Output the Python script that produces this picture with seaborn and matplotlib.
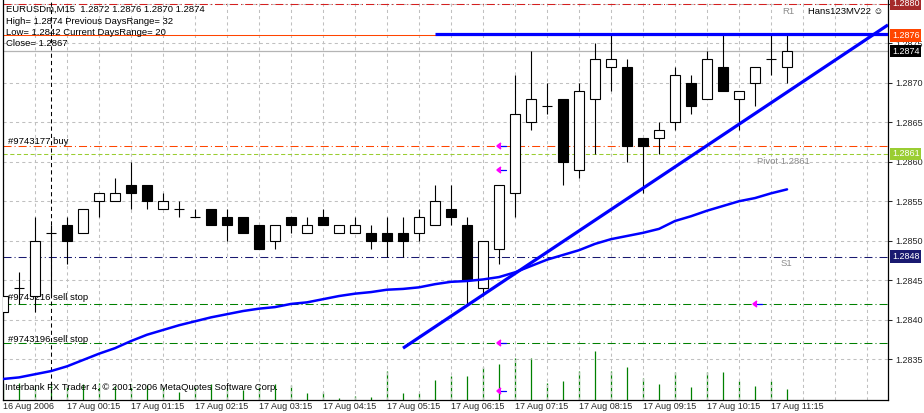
import matplotlib
matplotlib.use("Agg")
import matplotlib.pyplot as plt
import matplotlib.transforms as mtransforms
import numpy as np
import pandas as pd
import seaborn as sns

# EURUSDm M15, 16 Aug 2006 23:15 .. 17 Aug 11:30 (one entry per bar)
opens = [1.2841, 1.2844, 1.2843, 1.2851, 1.2852, 1.2851, 1.2855, 1.2855, 1.2857, 1.2857,
         1.2854, 1.2854, 1.2853, 1.2854, 1.2853, 1.2853, 1.2852, 1.2850, 1.2853, 1.2851,
         1.2853, 1.2851, 1.2851, 1.2851, 1.2851, 1.2851, 1.2851, 1.2852, 1.2854, 1.2852,
         1.2844, 1.2849, 1.2856, 1.2865, 1.2867, 1.2868, 1.2859, 1.2868, 1.2872, 1.2872,
         1.2863, 1.2863, 1.2865, 1.2870, 1.2868, 1.2872, 1.2868, 1.2870, 1.2873, 1.2872]
highs = [1.2843, 1.2846, 1.2853, 1.2852, 1.2853, 1.2854, 1.2856, 1.2858, 1.2860, 1.2857,
         1.2856, 1.2855, 1.2854, 1.2854, 1.2854, 1.2853, 1.2852, 1.2852, 1.2853, 1.2853,
         1.2854, 1.2852, 1.2853, 1.2852, 1.2853, 1.2853, 1.2854, 1.2857, 1.2857, 1.2853,
         1.2850, 1.2857, 1.2871, 1.2874, 1.2870, 1.2868, 1.2870, 1.2875, 1.2876, 1.2873,
         1.2863, 1.2865, 1.2872, 1.2871, 1.2874, 1.2876, 1.2869, 1.2872, 1.2876, 1.2876]
lows = [1.2840, 1.2842, 1.2841, 1.2843, 1.2847, 1.2851, 1.2853, 1.2855, 1.2854, 1.2854,
        1.2854, 1.2853, 1.2853, 1.2852, 1.2850, 1.2851, 1.2849, 1.2849, 1.2851, 1.2851,
        1.2852, 1.2851, 1.2851, 1.2849, 1.2848, 1.2848, 1.2850, 1.2852, 1.2852, 1.2842,
        1.2843, 1.2847, 1.2853, 1.2864, 1.2866, 1.2857, 1.2858, 1.2861, 1.2869, 1.2860,
        1.2856, 1.2861, 1.2864, 1.2866, 1.2868, 1.2869, 1.2864, 1.2867, 1.2871, 1.2870]
closes = [1.2843, 1.2844, 1.2850, 1.2851, 1.2850, 1.2854, 1.2856, 1.2856, 1.2856, 1.2855,
          1.2855, 1.2854, 1.2853, 1.2852, 1.2852, 1.2851, 1.2849, 1.2852, 1.2852, 1.2852,
          1.2852, 1.2852, 1.2852, 1.2850, 1.2850, 1.2850, 1.2853, 1.2855, 1.2853, 1.2845,
          1.2850, 1.2857, 1.2866, 1.2868, 1.2867, 1.2860, 1.2869, 1.2873, 1.2873, 1.2862,
          1.2862, 1.2864, 1.2871, 1.2867, 1.2873, 1.2869, 1.2869, 1.2872, 1.2873, 1.2874]
# moving average drawn on the chart
ma_line = [1.28325, 1.28327, 1.28331, 1.28335, 1.28341, 1.28349, 1.28357, 1.28364, 1.28373, 1.28381,
           1.28387, 1.28393, 1.28398, 1.28403, 1.28407, 1.28411, 1.28414, 1.28416, 1.28420, 1.28422,
           1.28426, 1.28430, 1.28433, 1.28435, 1.28438, 1.28439, 1.28441, 1.28445, 1.28448, 1.28449,
           1.28451, 1.28454, 1.28460, 1.28468, 1.28476, 1.28482, 1.28488, 1.28496, 1.28502, 1.28506,
           1.28510, 1.28515, 1.28525, 1.28531, 1.28538, 1.28544, 1.28550, 1.28554, 1.28560, 1.28565]
# tick volumes
volumes = [17, 17, 15, 17, 15, 16, 17, 14, 16, 15, 13, 8, 15, 16, 13, 10, 15, 16, 15, 7,
           8, 2, 4, 3, 29, 7, 7, 20, 24, 24, 33, 36, 42, 42, 17, 19, 29, 49, 29, 33,
           22, 16, 28, 13, 28, 28, 19, 14, 19, 11]

time_labels = ["16 Aug 2006", "17 Aug 00:15", "17 Aug 01:15", "17 Aug 02:15", "17 Aug 03:15",
               "17 Aug 04:15", "17 Aug 05:15", "17 Aug 06:15", "17 Aug 07:15", "17 Aug 08:15",
               "17 Aug 09:15", "17 Aug 10:15", "17 Aug 11:15"]
price_ticks = [1.2835, 1.2840, 1.2845, 1.2850, 1.2855, 1.2860, 1.2865, 1.2870, 1.2875, 1.2880]

r1_level = 1.2880
ask_level = 1.2876
bid_level = 1.2874
buy_level = 1.2862
pivot_level = 1.2861
s1_level = 1.2848
sell_stop_levels = [1.2842, 1.2837]
day_start_bar = 3

# drawn objects
hline_start_bar, hline_price = 27, 1.28762
trend_bars = [25, 45]
trend_prices = [1.28364, 1.28634]

order_marks = pd.DataFrame({
    "bar": [31, 31, 31, 31, 47],
    "price": [1.2862, 1.2859, 1.2837, 1.2831, 1.2842],
})

bars = np.arange(len(opens))
df = pd.DataFrame({"bar": bars, "open": opens, "high": highs, "low": lows,
                   "close": closes, "ma": ma_line, "vol": volumes})

sns.set_style("white")
plt.rcParams["font.family"] = ["Liberation Sans", "DejaVu Sans"]

W, H = 924, 413
fig = plt.figure(figsize=(W / 100, H / 100), dpi=100)
fig.patch.set_facecolor("white")
pos = [2.5 / W, 13 / H, 885.5 / W, 400 / H]
xlim = (-0.03, 55.31)
ylim = (1.282984, 1.288047)

vol_ax = fig.add_axes(pos)
vol_ax.vlines(df["bar"], 0, df["vol"], color="#008000", lw=0.9)
vol_ax.set_xlim(xlim)
vol_ax.set_ylim(0, 400)
vol_ax.axis("off")

ax = fig.add_axes(pos)
ax.patch.set_visible(False)
ax.set_xlim(xlim)
ax.set_ylim(ylim)

# grid
ax.set_xticks(np.arange(0, 49, 4))
ax.set_xticks(np.arange(0, 56, 2), minor=True)
ax.set_xticklabels(time_labels)
ax.set_yticks(price_ticks)
# the 1.2880 label sits under the R1 price box
ax.set_yticklabels(["" if p == r1_level else f"{p:.4f}" for p in price_ticks])
ax.grid(True, which="both", color="#c0c0c0", linestyle=(0, (3, 3)), lw=0.75)
ax.set_axisbelow(True)

ax.yaxis.tick_right()
ax.tick_params(axis="y", which="major", direction="out", length=3, pad=2,
               labelsize=6.5, width=0.75, right=True, left=False)
ax.tick_params(axis="x", which="major", direction="out", length=3, pad=-1.3,
               labelsize=6.5, width=0.75)
ax.tick_params(axis="x", which="minor", length=0)
for lab in ax.get_xticklabels():
    lab.set_ha("left")
for side in ["left", "right", "bottom"]:
    ax.spines[side].set_color("black")
    ax.spines[side].set_linewidth(0.9)
ax.spines["top"].set_visible(False)

# level lines
dashdot = (0, (7.7, 2.9, 1, 2.9))
ax.axhline(r1_level, color="#d42020", lw=0.75, ls=dashdot, zorder=2)
ax.axhline(ask_level, color="#ff4500", lw=0.75, zorder=2)
ax.axhline(bid_level, color="#b4b4b4", lw=0.9, zorder=2)
ax.axhline(buy_level, color="#ff4500", lw=0.75, ls=dashdot, zorder=2)
ax.axhline(pivot_level, color="#9acd32", lw=0.75, ls=(0, (4, 2.5)), zorder=2)
ax.axhline(s1_level, color="#191970", lw=0.75, ls=dashdot, zorder=2)
for lvl in sell_stop_levels:
    ax.axhline(lvl, color="#008000", lw=0.75, ls=dashdot, zorder=2)
ax.axvline(day_start_bar, color="black", lw=0.75, ls=(0, (4, 3)), zorder=2)

# text overlays
def px(x, y):
    return x / W, 1 - y / H

txt = dict(transform=fig.transFigure, fontsize=6.8, va="center", ha="left", zorder=2.5)
header = ["EURUSDm,M15  1.2872 1.2876 1.2870 1.2874",
          "High= 1.2874 Previous DaysRange= 32",
          "Low= 1.2842 Current DaysRange= 20",
          "Close= 1.2867"]
for line, yy in zip(header, [9.5, 21, 32.5, 44]):
    ax.text(*px(6, yy), line, color="black", **txt)
ax.text(*px(8, 141), "#9743177 buy", color="black", **txt)
ax.text(*px(8, 297), "#9743216 sell stop", color="black", **txt)
ax.text(*px(8, 339), "#9743196 sell stop", color="black", **txt)
ax.text(*px(757, 161), "Pivot 1.2861", color="#8c8c8c", **txt)
ax.text(*px(782, 12), "R1", color="#8c8c8c", **txt)
ax.text(*px(781, 264), "S1", color="#8c8c8c", **txt)
ax.text(*px(808, 12), "Hans123MV22 \u263a", color="black", **txt)
ax.text(*px(5, 387), "Interbank FX Trader 4, \u00a9 2001-2006 MetaQuotes Software Corp.",
        color="black", **txt)

# candles
body_w = 0.58
ax.vlines(df["bar"], df["low"], df["high"], color="black", lw=0.8, zorder=4)
up = df["close"] >= df["open"]
ax.bar(df["bar"], (df["close"] - df["open"]).abs(), bottom=df[["open", "close"]].min(axis=1),
       width=body_w, color=np.where(up, "white", "black"), edgecolor="black", lw=0.8, zorder=5)

# moving average and trend lines
sns.lineplot(data=df, x="bar", y="ma", ax=ax, color="#0000ff", lw=1.8, zorder=6)
ax.plot([hline_start_bar, xlim[1]], [hline_price, hline_price], color="#0000ff", lw=2.3,
        solid_capstyle="butt", zorder=6)
slope = (trend_prices[1] - trend_prices[0]) / (trend_bars[1] - trend_bars[0])
ax.plot([trend_bars[0], xlim[1]],
        [trend_prices[0], trend_prices[0] + slope * (xlim[1] - trend_bars[0])],
        color="#0000ff", lw=2.3, solid_capstyle="butt", zorder=6)

# order arrows
for b, p in zip(order_marks["bar"], order_marks["price"]):
    ax.plot([b - 0.05, b + 0.45], [p, p], color="#0000ff", lw=0.9, zorder=7)
    ax.plot([b - 0.15], [p], marker=4, color="#ff00ff", ms=4, mew=1.2, zorder=8)

ax.set_xlabel("")
ax.set_ylabel("")

# price boxes on the price scale
blend = mtransforms.blended_transform_factory(ax.transAxes, ax.transData)
boxes = [(r1_level, "#a52a2a"), (ask_level, "#ff4500"), (bid_level, "black"),
         (pivot_level, "#9acd32"), (s1_level, "#191970")]
for lvl, col in boxes:
    ax.text(1 + 4 / 885.5, lvl, f"{lvl:.4f}", transform=blend, fontsize=6.5, color="white",
            va="center", ha="left", zorder=10, clip_on=False,
            bbox=dict(boxstyle="square,pad=0.2", fc=col, ec="none"))

fig.savefig("out.png", dpi=100, facecolor="white")
